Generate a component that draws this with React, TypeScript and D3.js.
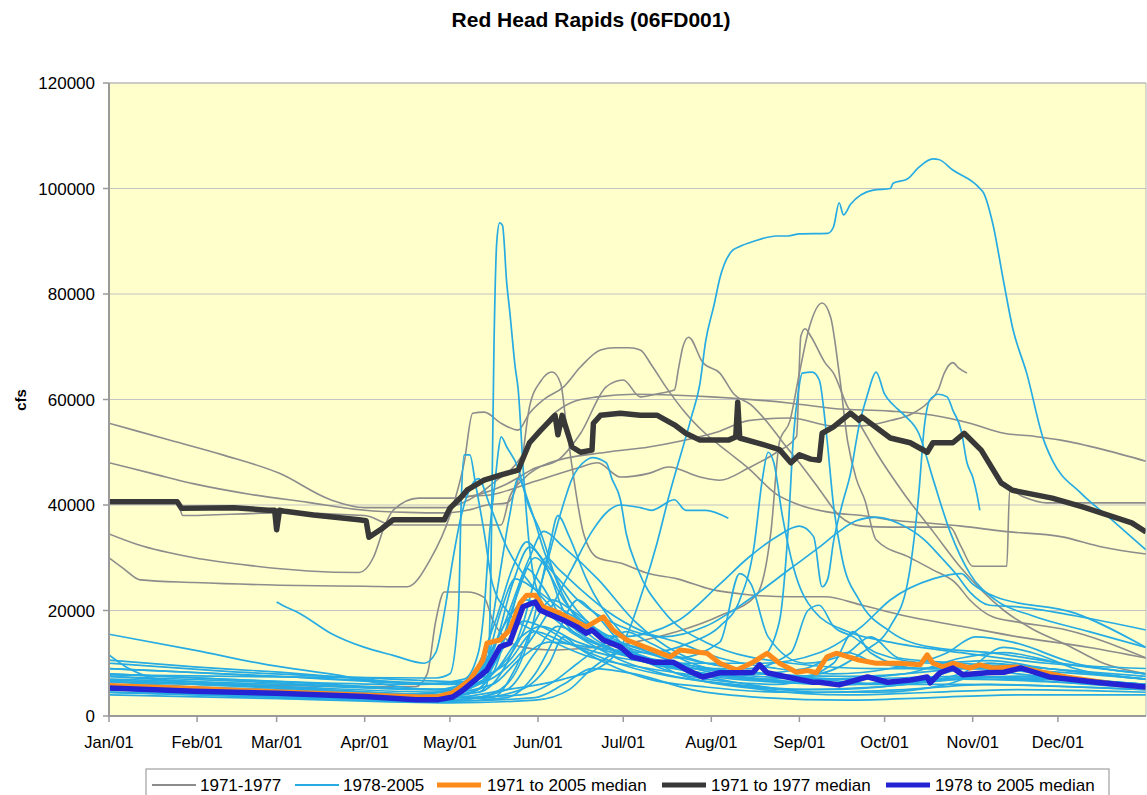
import React from "react";
import * as d3 from "d3";

type Pt = [number, number]; // [day of year, thousand cfs]

const titleText = "Red Head Rapids (06FD001)";
const yAxisTitle = "cfs";
const monthDays = [0, 31, 59, 90, 120, 151, 181, 212, 243, 273, 304, 334];
const monthLabels = ["Jan/01", "Feb/01", "Mar/01", "Apr/01", "May/01", "Jun/01", "Jul/01", "Aug/01", "Sep/01", "Oct/01", "Nov/01", "Dec/01"];
const yTicks = [0, 20000, 40000, 60000, 80000, 100000, 120000];
const legendLabels = ["1971-1977", "1978-2005", "1971 to 2005 median", "1971 to 1977 median", "1978 to 2005 median"];

// ---- 1971-1977 individual years (gray) ----
const gray1: Pt[] = [[0,55.5],[20,52.5],[40,49.5],[60,46],[78,41],[90,39.5],[118,39.5],[124,40.3],[130,42],[136,44.5],[142,47],[150,53],[156,57],[163,59.5],[172,60.5],[185,61],[200,60.8],[212,60.5],[240,59.3],[255,58.3],[275,57.8],[290,57],[303,55.5],[315,53.6],[326,53],[335,52.3],[350,50.5],[365,48.3]];
const gray2: Pt[] = [[0,48],[15,46],[30,44],[50,42],[70,40.5],[90,39],[105,38.6],[118,38.5],[126,39],[133,40],[140,40.4],[145,47.2],[148,58.6],[152,63.5],[156,65.2],[159,63],[161,55],[163,47.2],[167,34.7],[172,30],[180,29],[190,27],[200,26],[212,24],[225,23],[240,22.6],[252,22.6],[265,21],[280,19],[300,17],[320,15],[345,13],[365,11]];
const gray3: Pt[] = [[0,34.5],[10,32.5],[30,30],[50,28.5],[70,27.5],[88,27.2],[93,30],[97,36],[100,39],[109,41.3],[120,41.3],[130,42],[140,44],[150,47],[158,48.5],[166,53.6],[175,62.4],[181,63.7],[187,60.5],[194,61.2],[199,61.8],[200.5,66],[202,70],[204,71.8],[209,67],[215,65],[220,61],[226,59],[232,55.5],[237,52],[243,48],[250,43],[257,38],[265,36],[275,35.8],[296,35.8],[300,32],[304,28.4],[316,28.4],[317,42.8],[322,41.5],[330,40.4],[365,40.4]];
const gray4: Pt[] = [[0,30],[5,28],[11,25.8],[30,25.3],[60,24.8],[90,24.6],[105,24.5],[113,29.6],[120,38],[125,48],[128,57.4],[132,57.6],[138,55.5],[144,54.2],[148,57.4],[153,60],[160,62.4],[166,66.2],[173,69.4],[178,69.8],[183,69.8],[187,69.4],[191,66.5],[196,62.4],[203,57.4],[210,53.5],[218,50],[225,47],[235,42],[243,40],[255,38.5],[265,38],[278,37],[290,36.5],[300,36],[315,35],[335,34],[350,32],[365,30.7]];
const gray5: Pt[] = [[0,6.5],[30,6],[60,5.8],[90,5.6],[108,5.6],[112,8],[115,18],[118,23.5],[126,23.5],[132,22.5],[135,18.2],[139,15],[145,13.1],[155,12.5],[170,13],[185,14],[200,16],[215,19],[228,23],[233,35],[236,52],[239.7,56],[243,65],[246.5,73.7],[251,78.3],[254,75.6],[257,65],[260,52],[263,45],[266,41],[270,33.4],[282,30],[290,27.7],[298,25.2],[303,22],[311,18.8],[320,17.8],[337,16.3],[365,11]];
const gray6: Pt[] = [[121,40],[125,41.5],[135,42],[150,44.5],[165,47],[172,48],[180,45.3],[190,46],[197,47.2],[208,45.3],[215,44.7],[225,47],[235,50],[242,53],[243.5,72],[245,73.4],[247,72],[252,67],[255,65],[260,58.6],[264,55.5],[270,50],[280,42],[290,35],[300,28],[315,20],[325,16.5],[337,13.5],[350,10],[365,8]];
const gray7: Pt[] = [[0,40.6],[24,40.6],[26,38],[60,38.5],[90,38],[100,36.2],[138,36.2],[141,41.5],[146,45],[155,48],[175,50],[190,51],[200,52],[215,54],[225,56],[240,56.5],[255,55],[265,55],[275,56],[283,57.4],[288,59.3],[292,62],[294,65],[297,67],[299,66],[302,65]];

// ---- 1978-2005 individual years (light blue) ----
const blue1: Pt[] = [[0,7.5],[30,6.5],[60,5.5],[90,4.5],[120,4],[130,4.5],[133,6],[134.5,30],[135.5,70],[136.5,90],[137.5,93.5],[138.5,93],[140,82],[141,77],[143,66],[144,62],[146,45],[148,32],[152,22],[160,17],[175,13],[200,10],[230,8],[260,7],[300,7.5],[330,7],[365,6]];
const blue2: Pt[] = [[0,5],[60,4],[120,3.5],[140,5],[160,7],[175,10],[182,15],[188,24],[193,33],[197,41.5],[205,56.7],[208,63],[210,71],[213,78],[215,83],[219,88],[222,89],[227,90],[235,91],[239,91],[243,91.4],[253,91.5],[255,92.7],[257,97.3],[258.5,95],[261,97],[269,99.7],[275,100],[276,101],[281,101.8],[285,104],[290,105.6],[292,105.5],[297,103.5],[306,100.3],[308,99],[311,93.5],[315,82],[318,73.7],[323,65],[329,52.3],[332,48.5],[342,42.3],[353,37.2],[365,31.5]];
const blue3: Pt[] = [[0,8],[60,6.5],[120,5],[135,8],[145,15],[152,17],[165,14],[185,11],[205,9],[220,9],[230,11],[236,18],[239,35],[241,53.6],[242.5,61],[244,65],[247.5,65.2],[250,63.7],[252.5,53.6],[255,40],[258,30],[264,22],[275,16],[290,13],[310,12],[335,10],[365,8]];
const blue4: Pt[] = [[0,9],[40,8],[100,6.5],[125,6],[132,10],[140,18],[147,22],[155,20],[165,17],[180,15],[200,18],[215,25],[225,30],[235,34],[243,36],[248,34],[251,24.5],[253,26],[255,33],[258,40],[261,46],[264,55],[267,61],[270,65.2],[273,61],[276,59],[280,57],[285,53.6],[290,45],[296,35],[303,27],[312,22],[325,19],[345,16],[365,13]];
const blue5: Pt[] = [[0,4.5],[60,3.8],[120,3],[140,5],[150,12],[158,17],[170,14],[190,10],[210,8],[230,7],[250,8],[265,12],[275,17],[281,25],[285,42],[287,55],[289,60],[292,61],[295,60.5],[297,58],[300,54],[302,48],[304,45.3],[305.5,42],[306.5,39]];
const blue6: Pt[] = [[0,10.6],[30,9.3],[60,8.3],[90,7],[110,6],[125,7],[130,12],[132,20],[134,35],[136,45],[137,50],[138,52.9],[140,51],[144,47],[147,41],[152,34.7],[158,25],[165,18],[180,12],[200,9],[230,7],[260,6],[300,7],[330,6.5],[365,5.5]];
const blue7: Pt[] = [[0,7.8],[60,7.4],[115,7.2],[120,8],[123,20],[124,41],[125,49.5],[127,49.5],[129,44],[132,35],[135,25],[140,20],[150,16],[165,12],[190,9],[220,7],[260,6],[300,6],[365,5]];
const blue8: Pt[] = [[0,6.5],[100,4],[125,5],[135,8],[145,15],[152,25],[159,38.5],[163,45],[168,48.5],[170,49],[175,48],[177,45],[180,41],[182,34.7],[186,28],[195,20],[210,14],[240,10],[270,9],[300,9],[365,7]];
const blue9: Pt[] = [[0,6],[100,4],[130,6],[145,12],[155,20],[163,28],[170,35],[176,39],[180,40],[187,39.5],[191,39],[199,41],[203,39],[210,39],[218,37.5]];
const blue10: Pt[] = [[59,21.6],[61,21],[67,19.5],[78,15.7],[90,13],[100,11.5],[111,10],[115,12],[118,19.5],[121,29.6],[124,38],[127,43],[130,45],[134,40],[140,32],[147,26],[155,21],[165,16],[180,12],[200,9.5],[230,8],[260,7.5],[290,8.5],[310,10],[330,9],[365,7.5]];
const blue11: Pt[] = [[0,6.8],[60,5.6],[120,4.5],[135,6],[145,11],[155,14],[170,13],[190,12],[205,14],[215,17],[222,22],[227,32],[230,45],[232,50],[234,48],[237,38],[241,28],[248,20],[260,16],[275,14],[300,12],[330,10],[365,9]];
const blue12: Pt[] = [[0,6],[60,4.5],[110,3.5],[125,4],[135,8],[142,20],[147,28],[152,25],[160,18],[175,12],[195,8],[220,6],[250,5],[280,6],[300,9],[310,10],[330,8],[365,6]];
const blue13: Pt[] = [[0,5],[60,4],[115,3],[130,3.5],[140,6],[148,15],[155,32],[158,38],[162,34],[168,26],[180,16],[200,10],[230,7],[260,6],[290,7],[320,7.5],[365,5.5]];
const blue14: Pt[] = [[0,4.5],[60,3.5],[120,2.8],[140,3.5],[150,8],[158,16],[165,22],[170,20],[180,14],[200,9],[225,6],[250,4.5],[280,5],[310,6],[340,5.5],[365,5]];
const blue15: Pt[] = [[0,8],[40,7],[100,6],[128,6.5],[133,12],[137,25],[141,38],[144,45],[148,40],[154,30],[162,22],[175,15],[195,10],[225,7],[260,6],[300,7],[330,7],[365,6]];
const blue16: Pt[] = [[0,5.5],[60,4.5],[120,3.5],[145,4],[155,6],[165,10],[175,14],[182,16],[190,14],[205,10],[225,8],[245,9],[260,12],[270,10],[290,9],[310,9],[340,7],[365,6]];
const blue17: Pt[] = [[0,4],[60,3.3],[120,2.5],[150,3],[162,5],[170,9],[180,12],[190,11],[200,8],[230,5],[260,4],[290,4.5],[320,5],[365,4.5]];
const blue18: Pt[] = [[0,6.5],[60,5.5],[120,4],[130,5],[137,12],[143,22],[150,30],[155,27],[160,20],[170,16],[185,13],[200,11],[215,14],[222,27],[226,25],[232,15],[245,10],[260,12],[268,15],[278,11],[300,10],[330,9],[365,7]];
const blue19: Pt[] = [[0,7],[60,6],[115,5],[128,7],[138,16],[148,30],[153,35],[160,32],[172,26],[185,18],[200,12],[220,9],[250,7],[275,6],[300,8],[315,13],[325,12],[340,9],[365,7]];
const blue20: Pt[] = [[0,5],[50,4],[110,3],[135,3.5],[143,9],[150,18],[156,22],[163,20],[175,15],[190,10],[210,7],[235,6],[255,10],[262,16],[268,12],[285,9],[300,9.5],[320,8],[365,6]];
const blue21: Pt[] = [[0,6],[60,5],[115,4],[130,4.5],[140,10],[146,18],[150,26],[154,30],[158,28],[166,24],[175,20],[188,16],[200,14],[215,11],[235,9],[255,8],[275,9],[295,12],[305,15],[318,14],[340,10],[365,8]];
const blue22: Pt[] = [[0,4.5],[70,3.5],[120,2.8],[150,3.5],[160,6],[170,9],[185,8],[205,5],[230,3.5],[260,3],[290,3.5],[320,4],[365,4]];
const blue23: Pt[] = [[0,15.5],[30,12.5],[56,9.7],[80,7.8],[103,5.5],[118,5],[128,8],[136,18],[142,28],[147,33],[152,30],[160,22],[175,15],[195,11],[220,8],[250,7],[280,8],[300,11],[315,12],[335,10],[365,8]];
const blue24: Pt[] = [[0,11.6],[7,9],[14,7.4],[24,6.3],[50,5.5],[90,4.5],[118,4],[132,7],[140,14],[146,18],[152,17],[165,13],[185,9],[210,6.5],[240,5],[270,5.5],[300,7],[320,7.5],[345,6.5],[365,6]];
const blue25: Pt[] = [[0,10],[40,8.5],[100,7],[125,6.5],[135,12],[142,25],[148,32],[155,28],[165,22],[180,17],[195,15],[210,17],[225,22],[240,28],[250,32],[257,35],[263,37],[270,37.7],[278,36.5],[287,33.4],[293,30],[298,27],[303,23.5],[310,21],[320,20.7],[340,19],[365,16.3]];
const blue26: Pt[] = [[0,9],[60,7.5],[120,6],[140,10],[150,16],[160,14],[180,11],[200,10],[230,10],[250,12],[265,17],[275,22],[290,26],[300,27],[304,25],[312,22.6],[340,19.5],[365,13]];
const blue27: Pt[] = [[0,7.5],[50,6.5],[100,5.2],[125,5],[132,9],[138,20],[143,26],[150,24],[160,20],[170,17],[180,14],[195,12],[210,10],[225,9],[240,12],[246,20],[250,21],[255,17],[262,15],[270,12],[290,10],[310,10.5],[330,9],[365,7]];
const blue28: Pt[] = [[0,5.8],[50,4.8],[100,4],[130,3.5],[145,5],[155,10],[160,15],[165,13],[175,10],[190,7],[210,5.5],[240,4.5],[270,4.5],[295,6],[305,7.5],[320,7],[345,6],[365,5.2]];

// ---- medians ----
const median1971to2005: Pt[] = [[0,5.8],[30,5.2],[59,4.6],[90,4],[110,3.6],[116,3.7],[121,4.4],[127,6.8],[131.6,10.6],[133,13.8],[137.6,14.4],[141,16.3],[144.7,21.4],[147,22.9],[150,22.9],[152.8,20.7],[158.7,19.5],[163.3,18.2],[168,16.9],[174,18.8],[177.4,16.3],[182.3,14.4],[191.5,12.5],[197.5,11.2],[201,12.5],[210.5,11.9],[215,10],[221,8.7],[226.7,10.2],[231.6,11.9],[236,10],[242,8.3],[246,8.6],[249,8.2],[252.7,11.2],[256,11.9],[264,10.6],[270,10],[278,10],[285.5,9.7],[288,11.6],[290,10],[293.6,9.3],[297,10],[303,9.1],[306.6,9.7],[311,9.1],[319.6,9.3],[337,7.4],[356,5.9],[365,5.5]];
const median1971to1977: Pt[] = [[0,40.6],[24,40.6],[25.5,39.4],[44,39.5],[56,39],[58.3,39],[59,35.3],[60,39],[62,38.8],[72,38.1],[88,37.2],[90.5,37],[91.5,33.9],[96,35.5],[100,37.2],[118,37.2],[120,39.4],[124,41.5],[126,42.8],[132,44.7],[138,45.7],[144,46.6],[148,51.8],[152,54.2],[157,57],[158,53.3],[159.5,57],[163,51],[166,50],[170,50.4],[170.5,55.5],[173,57],[180,57.4],[187,57],[193,57],[199,55.2],[203,53.6],[208,52.3],[218,52.3],[220.6,52.9],[221.3,59.5],[222,52.7],[230,51.5],[236,50.5],[240,48],[243,49.5],[247,48.7],[250,48.5],[251,53.6],[255,54.8],[261,57.4],[264,56.1],[265,56.7],[275,52.7],[282,51.8],[288,50],[290,51.8],[297,51.8],[301,53.6],[307,50.4],[314,44.2],[318,42.8],[332,41.3],[343,39.6],[360,36.6],[365,34.9]];
const median1978to2005: Pt[] = [[0,5.3],[30,4.7],[59,4.3],[90,3.7],[108,3.1],[116,3.1],[121,3.6],[124.6,4.9],[133,8.7],[137.6,13.1],[141,13.8],[143.6,17.6],[145.7,20.7],[150,21.6],[151.7,20.1],[154,19.5],[159.8,18.2],[164.7,16.9],[168,15.7],[170,16.3],[174,14.4],[180,13.1],[184,11.2],[191.5,10.2],[198.5,10.2],[203.5,8.7],[209,7.4],[215,8.2],[222,8.2],[226.7,8.3],[229,9.7],[231.6,8.2],[238.6,7.4],[247.8,6.4],[250,6.4],[257,5.9],[267,7.4],[274,6.4],[282,6.8],[288,7.4],[289,6.3],[292.5,8.2],[297,9.1],[300.6,7.8],[309,8.2],[315,8.3],[321,9.1],[331,7.4],[349,6.3],[365,5.5]];

const grayYears = [gray1, gray2, gray3, gray4, gray5, gray6, gray7];
const blueYears = [blue1, blue2, blue3, blue4, blue5, blue6, blue7, blue8, blue9, blue10, blue11, blue12, blue13, blue14, blue15, blue16, blue17, blue18, blue19, blue20, blue21, blue22, blue23, blue24, blue25, blue26, blue27, blue28];

const C = {
  gray: "#8c8c8c",
  blue: "#27abe3",
  orange: "#ff8a1c",
  dark: "#383838",
  blueMed: "#2424d4",
  bg: "#ffffcc",
  grid: "#c4c4c4",
  frame: "#9a9a9a",
};

const W = 1147, H = 795;
const PL = 109, PR = 1146, PT = 83, PB = 716;
const FONT = "'Liberation Sans', Arial, Helvetica, sans-serif";

export default function App() {
  const x = d3.scaleLinear().domain([0, 365]).range([PL, PR]);
  const y = d3.scaleLinear().domain([0, 120000]).range([PB, PT]);
  const smooth = d3.line<Pt>().x(d => x(d[0])).y(d => y(d[1] * 1000)).curve(d3.curveMonotoneX);
  const straight = d3.line<Pt>().x(d => x(d[0])).y(d => y(d[1] * 1000));

  const legendItems = [
    { label: legendLabels[0], color: C.gray, w: 2, x0: 152, tx: 200 },
    { label: legendLabels[1], color: C.blue, w: 2, x0: 295, tx: 343 },
    { label: legendLabels[2], color: C.orange, w: 5, x0: 437, tx: 487 },
    { label: legendLabels[3], color: C.dark, w: 5, x0: 662, tx: 711 },
    { label: legendLabels[4], color: C.blueMed, w: 5, x0: 886, tx: 935 },
  ];

  return (
    <svg width={W} height={H} style={{ position: "absolute", left: 0, top: 0, background: "#fff" }} fontFamily={FONT}>
      <defs>
        <clipPath id="plotclip">
          <rect x={PL} y={PT} width={PR - PL} height={PB - PT} />
        </clipPath>
      </defs>
      <text x={591} y={27} textAnchor="middle" fontSize={21} fontWeight="bold" fill="#000">{titleText}</text>

      <rect x={PL} y={PT} width={PR - PL} height={PB - PT} fill={C.bg} />
      {yTicks.slice(1).map(t => (
        <line key={t} x1={PL} x2={PR} y1={y(t)} y2={y(t)} stroke={C.grid} strokeWidth={1.2} />
      ))}

      <g clipPath="url(#plotclip)" fill="none" strokeLinejoin="round">
        {grayYears.map((s, i) => (
          <path key={"g" + i} d={smooth(s) || ""} stroke={C.gray} strokeWidth={1.6} />
        ))}
        {blueYears.map((s, i) => (
          <path key={"b" + i} d={smooth(s) || ""} stroke={C.blue} strokeWidth={1.7} />
        ))}
        <path d={straight(median1971to2005) || ""} stroke={C.orange} strokeWidth={5} />
        <path d={straight(median1971to1977) || ""} stroke={C.dark} strokeWidth={5.5} />
        <path d={straight(median1978to2005) || ""} stroke={C.blueMed} strokeWidth={5.5} />
      </g>

      <path d={`M${PL},${PT}H${PR}V${PB}`} fill="none" stroke="#b5b5b5" strokeWidth={1} />
      <line x1={PL} x2={PL} y1={PT} y2={PB + 1} stroke={C.frame} strokeWidth={2} />
      <line x1={PL - 1} x2={PR} y1={PB} y2={PB} stroke={C.frame} strokeWidth={2} />

      {yTicks.map(t => (
        <g key={"yt" + t}>
          <line x1={PL - 6} x2={PL} y1={y(t)} y2={y(t)} stroke={C.frame} strokeWidth={1.5} />
          <text x={95} y={y(t)} dy="0.36em" textAnchor="end" fontSize={17} fill="#000">{t}</text>
        </g>
      ))}
      {monthDays.map((d, i) => (
        <g key={"xt" + d}>
          <line x1={x(d)} x2={x(d)} y1={PB} y2={PB + 6} stroke={C.frame} strokeWidth={1.5} />
          <text x={x(d)} y={748} textAnchor="middle" fontSize={16.5} fill="#000">{monthLabels[i]}</text>
        </g>
      ))}
      <text transform="translate(26,400) rotate(-90)" textAnchor="middle" fontSize={15} fontWeight="bold" fill="#000">{yAxisTitle}</text>

      <rect x={146} y={769} width={963} height={40} fill="#fff" stroke="#a0a0a0" strokeWidth={1.2} />
      {legendItems.map(it => (
        <g key={it.label}>
          <line x1={it.x0} x2={it.x0 + 44} y1={785} y2={785} stroke={it.color} strokeWidth={it.w} />
          <text x={it.tx} y={785} dy="0.36em" fontSize={17} fill="#000">{it.label}</text>
        </g>
      ))}
    </svg>
  );
}
